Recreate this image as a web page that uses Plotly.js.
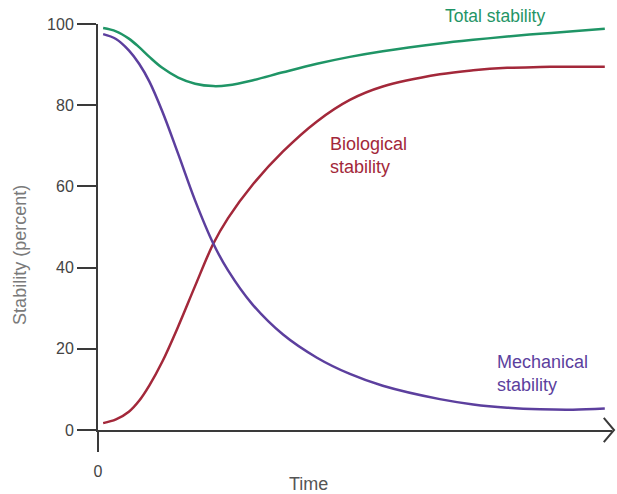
<!DOCTYPE html>
<html>
<head>
<meta charset="utf-8">
<script src="https://cdn.plot.ly/plotly-3.0.1.min.js"></script>
<style>html,body{margin:0;padding:0;background:#fff;}#chart{width:617px;height:494px;}</style>
</head>
<body>
<div id="chart"></div>
<script>
// Time (arbitrary units, axis runs 0..100)
const time = [1, 3.5, 6, 8, 10, 12.5, 15.6, 18.9, 22.4, 25.3, 30, 36, 42.6, 49, 55.4, 66.5, 73, 79.6, 86, 92.4, 98.6];
// Stability (percent)
const mechanical = [97.5, 96.3, 93.5, 90.2, 85.8, 78.5, 68, 56.5, 46, 39.3, 31, 23.5, 17.8, 13.8, 10.9, 7.6, 6.3, 5.5, 5.1, 5.0, 5.3];
const biological = [1.7, 2.6, 4.5, 7.2, 11, 16.8, 25.5, 35.5, 45.8, 52.2, 60.3, 68.6, 76, 81.3, 84.6, 87.6, 88.6, 89.2, 89.4, 89.5, 89.5];
const total = [99, 98.2, 96.4, 94.3, 91.9, 89.2, 86.8, 85.3, 84.7, 84.9, 86.1, 88.1, 90.2, 91.9, 93.3, 95.2, 96.1, 96.9, 97.6, 98.2, 98.8];
const yTicks = [0, 20, 40, 60, 80, 100];
const xTicks = [0];
const xTickText = ['0'];

const GREEN = '#1f9566', RED = '#a3283a', PURPLE = '#5c3f9e';
const FONT = 'Liberation Sans, Arial, sans-serif';

const traces = [
  {x: time, y: total, mode: 'lines', line: {color: GREEN, width: 2.5, shape: 'spline', smoothing: 1}, hoverinfo: 'skip'},
  {x: time, y: biological, mode: 'lines', line: {color: RED, width: 2.5, shape: 'spline', smoothing: 1}, hoverinfo: 'skip'},
  {x: time, y: mechanical, mode: 'lines', line: {color: PURPLE, width: 2.5, shape: 'spline', smoothing: 1}, hoverinfo: 'skip'}
];

const layout = {
  width: 617, height: 494,
  margin: {l: 98, r: 5, t: 24, b: 64},
  paper_bgcolor: '#fff', plot_bgcolor: '#fff',
  showlegend: false,
  font: {family: FONT, color: '#444', size: 16},
  xaxis: {
    range: [0, 100], showgrid: false, zeroline: false,
    showline: true, linecolor: '#3a3a3a', linewidth: 2,
    ticks: 'outside', ticklen: 20, tickwidth: 2, tickcolor: '#3a3a3a',
    tickvals: xTicks, ticktext: xTickText, ticklabelstandoff: 6,
    tickfont: {size: 16, color: '#444'}
  },
  yaxis: {
    range: [0, 100], showgrid: false, zeroline: false,
    showline: true, linecolor: '#3a3a3a', linewidth: 2,
    ticks: 'outside', ticklen: 19, tickwidth: 2, tickcolor: '#3a3a3a',
    tickvals: yTicks, ticksuffix: '   ',
    tickfont: {size: 16, color: '#444'}
  },
  annotations: [
    {text: 'Stability (percent)', xref: 'paper', yref: 'paper', x: -0.152, y: 0.431, textangle: -90,
     showarrow: false, font: {size: 18, color: '#7a7a7a'}, xanchor: 'center', yanchor: 'middle'},
    {text: 'Time', xref: 'paper', yref: 'paper', x: 0.41, y: -0.133, showarrow: false,
     font: {size: 18, color: '#555'}, xanchor: 'center', yanchor: 'middle'},
    {text: 'Total stability', xref: 'paper', yref: 'paper', x: 0.773, y: 1.02, showarrow: false,
     font: {size: 17.5, color: GREEN}, xanchor: 'center', yanchor: 'middle'},
    {text: 'Biological<br>stability', xref: 'paper', yref: 'paper', x: 0.447, y: 0.677, showarrow: false,
     align: 'left', font: {size: 18, color: RED}, xanchor: 'left', yanchor: 'middle'},
    {text: 'Mechanical<br>stability', xref: 'paper', yref: 'paper', x: 0.772, y: 0.14, showarrow: false,
     align: 'left', font: {size: 18, color: PURPLE}, xanchor: 'left', yanchor: 'middle'}
  ],
  shapes: [
    {type: 'path', xref: 'paper', yref: 'paper', path: 'M 0.984 0.03 L 1.004 0 L 0.984 -0.03',
     line: {color: '#3a3a3a', width: 2}}
  ]
};

Plotly.newPlot('chart', traces, layout, {displayModeBar: false, staticPlot: true});
</script>
</body>
</html>
